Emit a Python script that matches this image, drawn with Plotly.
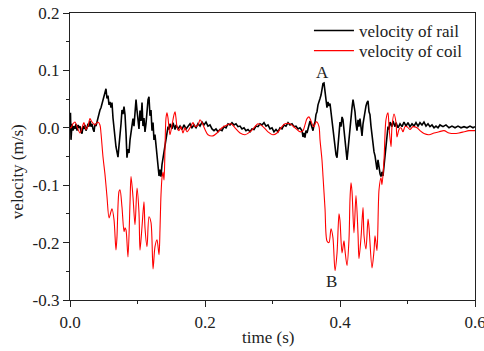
import plotly.graph_objects as go

# ---- data ----
rail_t = [0.0000, 0.0007, 0.0015, 0.0030, 0.0044, 0.0059, 0.0074, 0.0089, 0.0104, 0.0119, 0.0133, 0.0148,
          0.0163, 0.0178, 0.0193, 0.0207, 0.0222, 0.0237, 0.0252, 0.0267, 0.0281, 0.0296, 0.0311, 0.0326,
          0.0341, 0.0356, 0.0370, 0.0385, 0.0400, 0.0415, 0.0430, 0.0444, 0.0459, 0.0474, 0.0489, 0.0504,
          0.0519, 0.0533, 0.0548, 0.0563, 0.0578, 0.0593, 0.0607, 0.0622, 0.0637, 0.0652, 0.0667, 0.0681,
          0.0696, 0.0711, 0.0726, 0.0741, 0.0756, 0.0770, 0.0785, 0.0800, 0.0815, 0.0830, 0.0844, 0.0859,
          0.0874, 0.0889, 0.0904, 0.0919, 0.0933, 0.0948, 0.0963, 0.0978, 0.0993, 0.1007, 0.1022, 0.1037,
          0.1052, 0.1067, 0.1081, 0.1096, 0.1111, 0.1126, 0.1141, 0.1156, 0.1170, 0.1185, 0.1200, 0.1215,
          0.1230, 0.1244, 0.1259, 0.1274, 0.1289, 0.1304, 0.1319, 0.1333, 0.1348, 0.1363, 0.1378, 0.1393,
          0.1407, 0.1422, 0.1437, 0.1452, 0.1467, 0.1481, 0.1511, 0.1526, 0.1556, 0.1570, 0.1600, 0.1630,
          0.1659, 0.1689, 0.1719, 0.1748, 0.1778, 0.1807, 0.1837, 0.1867, 0.1896, 0.1926, 0.1956, 0.1985,
          0.2015, 0.2044, 0.2074, 0.2104, 0.2133, 0.2163, 0.2193, 0.2222, 0.2252, 0.2281, 0.2311, 0.2341,
          0.2370, 0.2400, 0.2430, 0.2459, 0.2489, 0.2519, 0.2548, 0.2578, 0.2607, 0.2637, 0.2667, 0.2696,
          0.2726, 0.2756, 0.2785, 0.2815, 0.2844, 0.2874, 0.2904, 0.2933, 0.2963, 0.2993, 0.3022, 0.3052,
          0.3081, 0.3111, 0.3141, 0.3170, 0.3200, 0.3230, 0.3259, 0.3289, 0.3319, 0.3348, 0.3378, 0.3407,
          0.3437, 0.3452, 0.3467, 0.3481, 0.3496, 0.3511, 0.3526, 0.3541, 0.3556, 0.3570, 0.3585, 0.3600,
          0.3615, 0.3630, 0.3644, 0.3659, 0.3674, 0.3689, 0.3704, 0.3719, 0.3733, 0.3748, 0.3763, 0.3778,
          0.3793, 0.3807, 0.3822, 0.3837, 0.3852, 0.3867, 0.3881, 0.3896, 0.3911, 0.3926, 0.3941, 0.3956,
          0.3970, 0.3985, 0.4000, 0.4015, 0.4030, 0.4044, 0.4059, 0.4074, 0.4089, 0.4104, 0.4119, 0.4133,
          0.4148, 0.4163, 0.4178, 0.4193, 0.4207, 0.4222, 0.4237, 0.4252, 0.4267, 0.4281, 0.4296, 0.4311,
          0.4326, 0.4341, 0.4356, 0.4370, 0.4385, 0.4400, 0.4415, 0.4430, 0.4444, 0.4459, 0.4474, 0.4489,
          0.4504, 0.4519, 0.4533, 0.4548, 0.4563, 0.4578, 0.4593, 0.4607, 0.4622, 0.4637, 0.4652, 0.4667,
          0.4681, 0.4696, 0.4711, 0.4726, 0.4741, 0.4770, 0.4785, 0.4815, 0.4830, 0.4859, 0.4889, 0.4919,
          0.4948, 0.4978, 0.5007, 0.5037, 0.5067, 0.5096, 0.5126, 0.5156, 0.5185, 0.5215, 0.5244, 0.5274,
          0.5304, 0.5333, 0.5363, 0.5393, 0.5422, 0.5452, 0.5481, 0.5526, 0.5570, 0.5615, 0.5659, 0.5704,
          0.5748, 0.5793, 0.5837, 0.5881, 0.5926, 0.5970, 0.6000]
rail_v = [0.003, 0.026, -0.021, 0.007, -0.005, 0.003, -0.002, 0.007, -0.005, 0.005, 0.000, 0.003,
          -0.007, -0.010, 0.003, -0.002, 0.005, -0.005, 0.000, 0.007, 0.002, 0.012, 0.002, 0.007,
          -0.002, -0.007, 0.007, 0.003, 0.010, 0.019, 0.024, 0.031, 0.035, 0.042, 0.049, 0.056,
          0.063, 0.068, 0.051, 0.056, 0.040, 0.045, 0.035, 0.044, 0.017, -0.003, -0.019, -0.033,
          -0.042, -0.051, -0.031, -0.017, 0.007, 0.031, 0.024, 0.037, 0.023, -0.010, -0.052, -0.037,
          -0.044, -0.021, -0.005, 0.002, 0.016, 0.003, 0.033, 0.049, 0.030, 0.016, -0.002, 0.030,
          0.012, 0.044, 0.003, 0.017, -0.007, 0.007, 0.038, 0.049, 0.054, 0.021, 0.031, -0.005,
          0.009, -0.021, -0.012, -0.033, -0.051, -0.066, -0.084, -0.073, -0.085, -0.064, -0.052, -0.037,
          -0.028, -0.016, -0.009, 0.002, -0.003, 0.007, -0.002, 0.009, -0.003, 0.005, -0.002, 0.003,
          -0.003, 0.005, -0.002, 0.003, 0.007, 0.000, 0.005, 0.000, 0.007, 0.003, 0.010, 0.005,
          0.010, 0.003, 0.005, -0.002, -0.005, -0.002, -0.007, -0.003, -0.005, 0.002, 0.000, 0.007,
          0.005, 0.009, 0.005, 0.007, 0.002, 0.003, -0.002, 0.000, -0.005, -0.003, -0.007, -0.002,
          -0.003, 0.003, 0.002, 0.007, 0.005, 0.009, 0.003, 0.005, -0.002, 0.000, -0.007, -0.003,
          -0.007, 0.000, -0.002, 0.005, 0.003, 0.009, 0.005, 0.007, 0.002, 0.003, -0.002, 0.000,
          -0.005, -0.016, -0.009, -0.017, -0.005, -0.009, 0.002, 0.005, 0.012, 0.007, -0.002, -0.005,
          0.005, 0.010, 0.023, 0.028, 0.040, 0.044, 0.051, 0.057, 0.066, 0.077, 0.078, 0.064,
          0.045, 0.035, 0.045, 0.038, 0.042, 0.028, 0.017, -0.005, -0.021, -0.035, -0.047, -0.052,
          -0.031, -0.007, 0.010, 0.002, 0.019, 0.014, -0.005, -0.024, -0.040, -0.056, -0.038, -0.017,
          0.002, 0.021, 0.035, 0.049, 0.038, 0.028, 0.007, -0.005, 0.014, 0.002, 0.016, 0.000,
          -0.014, 0.007, 0.019, 0.031, 0.038, 0.044, 0.047, 0.028, 0.023, 0.003, -0.014, -0.031,
          -0.042, -0.049, -0.061, -0.073, -0.056, -0.070, -0.080, -0.085, -0.077, -0.084, -0.064, -0.052,
          -0.035, -0.017, 0.002, -0.003, 0.010, 0.002, 0.012, 0.002, 0.009, 0.000, 0.007, 0.002,
          0.010, 0.003, 0.009, 0.002, 0.007, 0.003, 0.009, 0.003, 0.009, 0.005, 0.010, 0.003,
          0.007, 0.002, 0.005, 0.000, 0.003, 0.000, 0.005, 0.002, 0.005, 0.000, 0.003, 0.000,
          0.003, 0.000, 0.002, 0.000, 0.003, 0.000, 0.002]

coil_t = [0.0000, 0.0015, 0.0044, 0.0074, 0.0104, 0.0148, 0.0178, 0.0207, 0.0237, 0.0267, 0.0296, 0.0326,
          0.0370, 0.0400, 0.0415, 0.0444, 0.0459, 0.0489, 0.0519, 0.0548, 0.0578, 0.0607, 0.0622, 0.0652,
          0.0681, 0.0696, 0.0726, 0.0741, 0.0770, 0.0800, 0.0815, 0.0830, 0.0859, 0.0889, 0.0904, 0.0933,
          0.0963, 0.0993, 0.1022, 0.1037, 0.1067, 0.1096, 0.1111, 0.1141, 0.1170, 0.1200, 0.1230, 0.1259,
          0.1289, 0.1319, 0.1333, 0.1348, 0.1363, 0.1378, 0.1393, 0.1407, 0.1422, 0.1437, 0.1452, 0.1481,
          0.1511, 0.1541, 0.1556, 0.1570, 0.1585, 0.1615, 0.1644, 0.1674, 0.1704, 0.1733, 0.1778, 0.1822,
          0.1852, 0.1896, 0.1926, 0.1956, 0.2000, 0.2044, 0.2119, 0.2178, 0.2252, 0.2326, 0.2385, 0.2444,
          0.2519, 0.2593, 0.2667, 0.2741, 0.2785, 0.2859, 0.2933, 0.3007, 0.3067, 0.3126, 0.3185, 0.3259,
          0.3333, 0.3407, 0.3452, 0.3481, 0.3511, 0.3541, 0.3570, 0.3600, 0.3615, 0.3644, 0.3659, 0.3689,
          0.3704, 0.3733, 0.3748, 0.3778, 0.3807, 0.3837, 0.3867, 0.3896, 0.3926, 0.3956, 0.3985, 0.4000,
          0.4030, 0.4059, 0.4074, 0.4104, 0.4133, 0.4148, 0.4163, 0.4178, 0.4207, 0.4237, 0.4267, 0.4281,
          0.4311, 0.4341, 0.4356, 0.4385, 0.4415, 0.4430, 0.4474, 0.4504, 0.4519, 0.4548, 0.4578, 0.4607,
          0.4622, 0.4652, 0.4681, 0.4711, 0.4726, 0.4756, 0.4770, 0.4800, 0.4830, 0.4844, 0.4874, 0.4904,
          0.4933, 0.4963, 0.4993, 0.5037, 0.5081, 0.5141, 0.5185, 0.5244, 0.5319, 0.5393, 0.5467, 0.5541,
          0.5615, 0.5689, 0.5763, 0.5837, 0.5911, 0.6000]
coil_v = [0.000, 0.000, 0.007, 0.010, 0.002, -0.009, 0.000, 0.009, -0.003, 0.003, 0.016, 0.010,
          0.005, 0.009, 0.010, 0.005, -0.009, -0.051, -0.082, -0.120, -0.157, -0.146, -0.141, -0.160,
          -0.213, -0.190, -0.111, -0.108, -0.138, -0.181, -0.174, -0.178, -0.225, -0.131, -0.085, -0.120,
          -0.169, -0.105, -0.148, -0.213, -0.172, -0.129, -0.174, -0.207, -0.155, -0.165, -0.246, -0.207,
          -0.195, -0.221, -0.178, -0.117, -0.087, -0.077, -0.091, -0.038, 0.017, 0.026, 0.017, -0.012,
          0.005, 0.023, 0.028, 0.017, 0.002, -0.005, 0.002, -0.009, 0.000, -0.007, 0.000, 0.009,
          0.002, 0.005, 0.014, 0.009, -0.003, -0.012, -0.014, -0.009, 0.000, 0.005, 0.007, 0.000,
          -0.009, -0.012, -0.007, 0.002, 0.007, 0.002, -0.007, -0.012, -0.009, 0.000, 0.007, 0.007,
          0.000, -0.007, -0.005, 0.005, 0.016, 0.019, 0.012, 0.003, 0.002, 0.010, 0.010, 0.002,
          -0.021, -0.056, -0.084, -0.141, -0.197, -0.200, -0.176, -0.192, -0.249, -0.218, -0.150, -0.162,
          -0.218, -0.197, -0.214, -0.240, -0.195, -0.125, -0.096, -0.111, -0.183, -0.118, -0.185, -0.228,
          -0.192, -0.139, -0.188, -0.211, -0.159, -0.174, -0.244, -0.214, -0.188, -0.214, -0.108, -0.087,
          -0.099, -0.056, 0.014, 0.026, 0.002, -0.033, 0.002, 0.024, 0.009, -0.016, -0.003, 0.000,
          -0.007, 0.002, 0.002, -0.003, 0.002, 0.000, -0.005, -0.010, -0.012, -0.009, -0.007, -0.005,
          -0.009, -0.010, -0.009, -0.007, -0.005, -0.005]

x_tick_vals = [0.0, 0.2, 0.4, 0.6]
x_tick_text = ["0.0", "0.2", "0.4", "0.6"]
y_tick_vals = [-0.3, -0.2, -0.1, 0.0, 0.1, 0.2]
y_tick_text = ["-0.3", "-0.2", "-0.1", "0.0", "0.1", "0.2"]

label_A = (0.3748, 0.097)
label_B = (0.3880, -0.268)

FONT = "Liberation Serif, Times New Roman, serif"
TXT = "#222222"

fig = go.Figure()
fig.add_trace(go.Scatter(x=rail_t, y=rail_v, mode="lines", name="velocity of rail",
                         line=dict(color="black", width=1.6), legend="legend"))
fig.add_trace(go.Scatter(x=coil_t, y=coil_v, mode="lines", name="velocity of coil",
                         line=dict(color="#ff0000", width=1.1, shape="spline", smoothing=0.8),
                         legend="legend2"))

axis_common = dict(showline=True, linecolor="#222222", linewidth=1.3, mirror=True,
                   showgrid=False, zeroline=False, ticks="outside", ticklen=6, tickwidth=1.2,
                   tickcolor="#222222", tickfont=dict(family=FONT, size=17, color=TXT),
                   automargin=False, ticklabeloverflow="allow")

fig.update_xaxes(range=[0, 0.6], tickmode="array", tickvals=x_tick_vals, ticktext=x_tick_text,
                 minor=dict(ticks="outside", ticklen=3, tickwidth=1.2, tickcolor="#222222",
                            tickmode="linear", tick0=0, dtick=0.1),
                 **axis_common)
fig.update_yaxes(range=[-0.3, 0.2], tickmode="array", tickvals=y_tick_vals, ticktext=y_tick_text,
                 minor=dict(ticks="outside", ticklen=3, tickwidth=1.2, tickcolor="#222222",
                            tickmode="linear", tick0=0, dtick=0.05),
                 **axis_common)

fig.add_annotation(x=label_A[0], y=label_A[1], text="A", showarrow=False,
                   font=dict(family=FONT, size=17, color=TXT))
fig.add_annotation(x=label_B[0], y=label_B[1], text="B", showarrow=False,
                   font=dict(family=FONT, size=17, color=TXT))
fig.add_annotation(xref="paper", yref="paper", x=-0.128, y=0.446, text="velocity (m/s)",
                   textangle=-90, showarrow=False, xanchor="center", yanchor="middle",
                   font=dict(family=FONT, size=17, color=TXT))
fig.add_annotation(xref="paper", yref="paper", x=0.489, y=-0.129, text="time (s)",
                   showarrow=False, xanchor="center", yanchor="middle",
                   font=dict(family=FONT, size=17, color=TXT))

legend_style = dict(xanchor="left", yanchor="top", bgcolor="rgba(0,0,0,0)",
                    borderwidth=0, font=dict(family=FONT, size=17, color=TXT), itemwidth=40)

fig.update_layout(
    width=484, height=351,
    margin=dict(l=70, r=9, t=13, b=51, autoexpand=False),
    paper_bgcolor="white", plot_bgcolor="white",
    font=dict(family=FONT, size=17, color=TXT),
    showlegend=True,
    legend=dict(x=0.59, y=1.0, **legend_style),
    legend2=dict(x=0.59, y=0.930, **legend_style),
)

fig.write_html("out.html", config={"displayModeBar": False},
               post_script="document.body.style.margin='0';")
